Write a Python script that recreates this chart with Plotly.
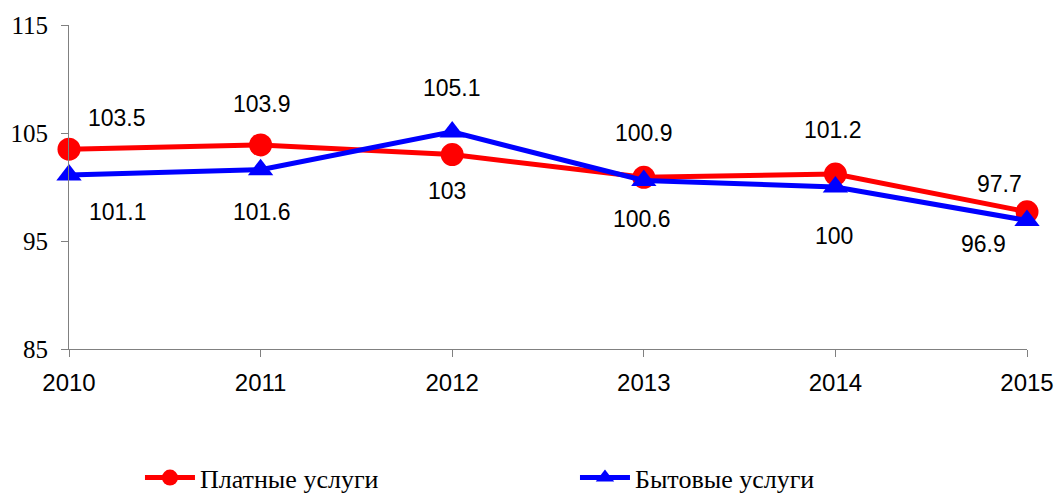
import plotly.graph_objects as go

# values
years = [2010, 2011, 2012, 2013, 2014, 2015]
paid = [103.5, 103.9, 103.0, 100.9, 101.2, 97.7]
household = [101.1, 101.6, 105.1, 100.6, 100.0, 96.9]
paid_name = "Платные услуги"
household_name = "Бытовые услуги"
y_ticks = [85, 95, 105, 115]

# label offsets in pixels (dx, dy) so the labels sit like the original
paid_shift = [(48, 31), (1, 41), (-5, -36), (0, 44), (-2, 44), (-28, 28)]
household_shift = [(49, -37), (1, -42), (0, 44), (-2, -38), (-1, -49), (-44, -24)]

fig = go.Figure()
fig.add_trace(go.Scatter(
    x=years, y=paid, name=paid_name, mode="lines+markers",
    line=dict(color="#FF0000", width=5),
    marker=dict(symbol="circle", size=23, color="#FF0000"),
    cliponaxis=False,
))
fig.add_trace(go.Scatter(
    x=years, y=household, name=household_name, mode="lines+markers",
    line=dict(color="#0000FF", width=5),
    marker=dict(symbol="triangle-up", size=22, color="#0000FF"),
    cliponaxis=False,
))

label_font = dict(family="Liberation Sans, Arial", size=23, color="#000000")
for xs, ys, shifts in [(years, paid, paid_shift), (years, household, household_shift)]:
    for x, y, (dx, dy) in zip(xs, ys, shifts):
        fig.add_annotation(
            x=x, y=y, text=f"{y:g}", showarrow=False,
            xshift=dx, yshift=dy, font=label_font,
        )

fig.update_layout(
    width=1058, height=494,
    margin=dict(l=69, r=31, t=25, b=145),
    paper_bgcolor="white", plot_bgcolor="white",
    showlegend=True,
    legend=dict(
        orientation="h", xref="container", yref="container",
        x=0.1323, y=0.033, xanchor="left", yanchor="middle",
        entrywidth=370, entrywidthmode="pixels",
        font=dict(family="Liberation Serif, Times New Roman", size=26, color="#000000"),
        itemwidth=50,
    ),
)
fig.update_xaxes(
    range=[2010, 2015], tickvals=years, ticktext=[str(y) for y in years],
    showgrid=False, zeroline=False, automargin=False,
    showline=True, linecolor="#808080", linewidth=1,
    ticks="outside", ticklen=7, tickcolor="#808080", ticklabelstandoff=5,
    tickfont=dict(family="Liberation Sans, Arial", size=24, color="#000000"),
)
fig.update_yaxes(
    range=[85, 115], tickvals=y_ticks,
    showgrid=False, zeroline=False, automargin=False,
    showline=True, linecolor="#808080", linewidth=1,
    ticks="outside", ticklen=7, tickcolor="#808080", ticklabelstandoff=8,
    tickfont=dict(family="Liberation Serif, Times New Roman", size=25, color="#000000"),
)

# drop the default page margin so the figure fills the window exactly
fig.write_html(
    "out.html",
    config={"displayModeBar": False},
    post_script="document.body.style.margin='0';",
)
